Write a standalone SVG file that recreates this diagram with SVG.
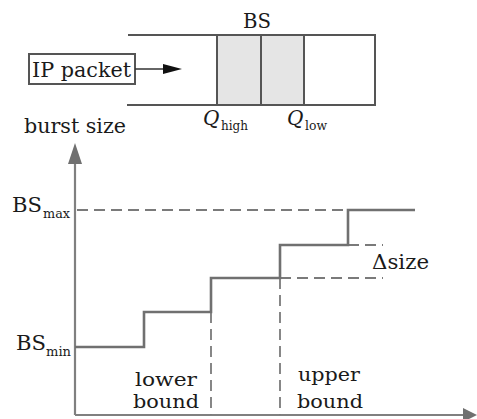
<svg xmlns="http://www.w3.org/2000/svg" width="477" height="419" viewBox="0 0 477 419">
<style>
text{font-family:"DejaVu Serif","Liberation Serif",serif;fill:#1a1a1a;font-size:20px}
.sub{font-size:13px}
.lb{font-size:18px}
.box{stroke:#555;stroke-width:2;fill:none}
.step{stroke:#707070;stroke-width:2.6;fill:none}
.dash{stroke:#7a7a7a;stroke-width:1.8;fill:none;stroke-dasharray:11 6}
.axis{stroke:#808080;stroke-width:2.2;fill:none}
</style>
<rect width="477" height="419" fill="#fff"/>
<g id="queue">
<rect x="217" y="35" width="87" height="70" fill="#e5e5e5"/>
<path class="box" d="M128,35H375V105H127M217,35V105M261,35V105M304,35V105"/>
<text x="243" y="28" textLength="28" lengthAdjust="spacingAndGlyphs">BS</text>
</g>
<g id="ip-packet">
<rect x="29" y="54" width="106" height="30" class="box"/>
<text x="32" y="77" textLength="99" lengthAdjust="spacingAndGlyphs">IP packet</text>
</g>
<g id="labels">
<text x="24" y="133" textLength="102" lengthAdjust="spacingAndGlyphs">burst size</text>
<text x="203" y="125" font-style="italic">Q</text><text class="sub" x="221" y="130" textLength="27" lengthAdjust="spacingAndGlyphs">high</text>
<text x="287" y="125" font-style="italic">Q</text><text class="sub" x="305" y="130" textLength="22" lengthAdjust="spacingAndGlyphs">low</text>
<text x="12" y="212" textLength="30" lengthAdjust="spacingAndGlyphs">BS</text><text class="sub" x="43" y="218" textLength="27" lengthAdjust="spacingAndGlyphs">max</text>
<text x="16" y="350" textLength="30" lengthAdjust="spacingAndGlyphs">BS</text><text class="sub" x="46" y="356" textLength="25" lengthAdjust="spacingAndGlyphs">min</text>
<text x="372" y="269" textLength="57" lengthAdjust="spacingAndGlyphs">Δsize</text>
<text class="lb" x="135" y="386" textLength="62" lengthAdjust="spacingAndGlyphs">lower</text>
<text class="lb" x="133" y="408" textLength="66" lengthAdjust="spacingAndGlyphs">bound</text>
<text class="lb" x="298" y="381" textLength="62" lengthAdjust="spacingAndGlyphs">upper</text>
<text class="lb" x="297" y="408" textLength="66" lengthAdjust="spacingAndGlyphs">bound</text>
</g>
<g id="connectors">
<path d="M135,69H165" stroke="#333" stroke-width="1.5" fill="none"/>
<path d="M163,64L182,69L163,74z" fill="#111"/>
<path class="axis" d="M75,415V160M75,415H463"/>
<path d="M68,164L75,143L82,164z" fill="#707070"/>
<path d="M463,408L477,415L463,422z" fill="#707070"/>
<path class="dash" d="M77,210H348M348,245H383M280,278H383M211,312V415M280,278V415"/>
<path class="step" d="M75,347H144V312H211V278H280V245H348V210H415"/>
</g>
</svg>
